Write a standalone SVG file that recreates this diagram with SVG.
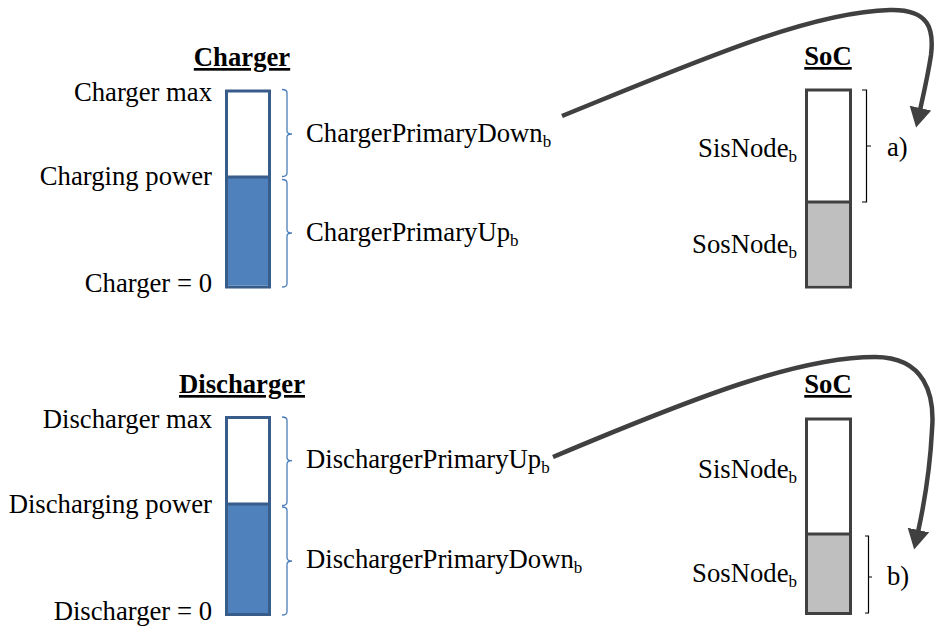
<svg xmlns="http://www.w3.org/2000/svg" width="938" height="629" viewBox="0 0 938 629">
<defs>
<style>
text{font-family:"Liberation Serif","Times New Roman",serif;font-size:26.7px;fill:#000}
.title{font-weight:bold;text-decoration:underline}
.end{text-anchor:end}
.mid{text-anchor:middle}
.sub{font-size:17px}
.bluebar{fill:#FFFFFF;stroke:#385D8A;stroke-width:3}
.bluefill{fill:#4F81BD}
.bluediv{stroke:#385D8A;stroke-width:3}
.greybar{fill:#FFFFFF;stroke:#404040;stroke-width:3}
.greyfill{fill:#BFBFBF}
.greydiv{stroke:#404040;stroke-width:3}
.brace{fill:none;stroke:#4A7EBB;stroke-width:1.3}
.bracket{fill:none;stroke:#000;stroke-width:1.2}
.arrow{fill:none;stroke:#404040;stroke-width:4.5}
</style>
<marker id="ah" markerUnits="userSpaceOnUse" markerWidth="24" markerHeight="24" refX="2" refY="11" orient="auto">
<path d="M0,0 L20,11 L0,22 Z" fill="#404040"/>
</marker>
</defs>

<g id="charger">
<text class="title mid" x="242" y="66">Charger</text>
<text class="end" x="212" y="101">Charger max</text>
<text class="end" x="212" y="185">Charging power</text>
<text class="end" x="212" y="292">Charger = 0</text>
<rect class="bluebar" x="226.5" y="91" width="43" height="196"/>
<rect class="bluefill" x="228" y="177" width="40" height="108.5"/>
<line class="bluediv" x1="226.5" y1="177" x2="269.5" y2="177"/>
<path class="brace" d="M282,89.5 Q287,89.5 287,93 L287,131 Q287,134 292,134 Q287,134 287,137 L287,173 Q287,176.5 282,176.5"/>
<path class="brace" d="M282,179.5 Q287,179.5 287,183 L287,230 Q287,233 292,233 Q287,233 287,236 L287,283.5 Q287,287 282,287"/>
<text x="306" y="142">ChargerPrimaryDown<tspan class="sub" dy="5">b</tspan></text>
<text x="306" y="241">ChargerPrimaryUp<tspan class="sub" dy="5">b</tspan></text>
</g>

<g id="soc-top">
<text class="title mid" x="828" y="65">SoC</text>
<rect class="greybar" x="806.5" y="90" width="44" height="197"/>
<rect class="greyfill" x="808" y="202" width="41" height="83.5"/>
<line class="greydiv" x1="806.5" y1="202" x2="850.5" y2="202"/>
<text class="end" x="797" y="157">SisNode<tspan class="sub" dy="5">b</tspan></text>
<text class="end" x="797" y="253">SosNode<tspan class="sub" dy="5">b</tspan></text>
<path class="bracket" d="M862,90 L866.5,90 L866.5,202 L862,202 M866.5,146 L871,146"/>
<text x="887" y="156">a)</text>
</g>

<g id="discharger">
<text class="title mid" x="242" y="393">Discharger</text>
<text class="end" x="212" y="428">Discharger max</text>
<text class="end" x="212" y="513">Discharging power</text>
<text class="end" x="212" y="620">Discharger = 0</text>
<rect class="bluebar" x="226.5" y="417.5" width="43" height="197"/>
<rect class="bluefill" x="228" y="504" width="40" height="109"/>
<line class="bluediv" x1="226.5" y1="504" x2="269.5" y2="504"/>
<path class="brace" d="M282,417 Q287,417 287,420.5 L287,457.5 Q287,460.7 292,460.7 Q287,460.7 287,464 L287,502 Q287,505.5 282,505.5"/>
<path class="brace" d="M282,507 Q287,507 287,510.5 L287,557.5 Q287,561 292,561 Q287,561 287,564.5 L287,611.5 Q287,615 282,615"/>
<text x="306" y="468">DischargerPrimaryUp<tspan class="sub" dy="5">b</tspan></text>
<text x="306" y="568">DischargerPrimaryDown<tspan class="sub" dy="5">b</tspan></text>
</g>

<g id="soc-bottom">
<text class="title mid" x="828" y="393">SoC</text>
<rect class="greybar" x="806.5" y="419" width="44" height="194.5"/>
<rect class="greyfill" x="808" y="534" width="41" height="78"/>
<line class="greydiv" x1="806.5" y1="534" x2="850.5" y2="534"/>
<text class="end" x="797" y="478">SisNode<tspan class="sub" dy="5">b</tspan></text>
<text class="end" x="797" y="582">SosNode<tspan class="sub" dy="5">b</tspan></text>
<path class="bracket" d="M865,536 L868.5,536 L868.5,613 L865,613 M868.5,577 L872,577"/>
<text x="887" y="585">b)</text>
</g>

<g id="connectors">
<path class="arrow" marker-end="url(#ah)" d="M562,116 C 700,60 810,12 890,10 C 930,9 934,30 931,55 C 928,75 924,92 920,110"/>
<path class="arrow" marker-end="url(#ah)" d="M553,457 C 700,395 800,357 875,357 C 925,357 935,395 932,430 C 930,470 925,500 918,532"/>
</g>
</svg>
